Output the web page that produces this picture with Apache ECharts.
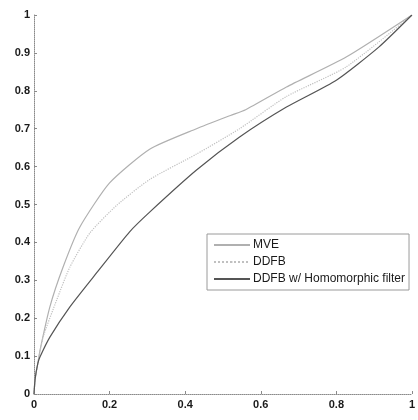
<!DOCTYPE html>
<html>
<head>
<meta charset="utf-8">
<script src="https://cdn.jsdelivr.net/npm/echarts@6/dist/echarts.min.js"></script>
<style>
  html, body { margin: 0; padding: 0; background: #fff; }
  #chart { width: 418px; height: 420px; }
</style>
</head>
<body>
<div id="chart"></div>
<script>
// Series names as shown in the legend
const seriesNames = ['MVE', 'DDFB', 'DDFB w/ Homomorphic filter'];

// Curve samples: x positions and y values for each series
const mveX  = [0, 0.003, 0.01, 0.016, 0.042, 0.077, 0.121, 0.2, 0.306, 0.43, 0.52, 0.56, 0.668, 0.826, 1];
const mveY  = [0, 0.04, 0.08, 0.116, 0.23, 0.335, 0.44, 0.557, 0.646, 0.7, 0.735, 0.75, 0.81, 0.889, 1];

const ddfbX = [0, 0.003, 0.01, 0.024, 0.06, 0.095, 0.148, 0.219, 0.306, 0.43, 0.544, 0.668, 0.826, 1];
const ddfbY = [0, 0.04, 0.08, 0.15, 0.248, 0.335, 0.425, 0.498, 0.566, 0.633, 0.7, 0.785, 0.863, 1];

const homoX = [0, 0.003, 0.01, 0.016, 0.042, 0.095, 0.166, 0.253, 0.306, 0.43, 0.544, 0.668, 0.8, 0.913, 1];
const homoY = [0, 0.04, 0.08, 0.098, 0.15, 0.23, 0.32, 0.428, 0.48, 0.591, 0.678, 0.757, 0.828, 0.916, 1];

// Axis tick positions
const xTicks = [0, 0.2, 0.4, 0.6, 0.8, 1];
const yTicks = [0, 0.1, 0.2, 0.3, 0.4, 0.5, 0.6, 0.7, 0.8, 0.9, 1];

const pairs = (xs, ys) => xs.map((x, i) => [x, ys[i]]);

const lineColors = ['#b0b0b0', '#c0c0c0', '#555555'];
const lineTypes = ['solid', 'dotted', 'solid'];

const chart = echarts.init(document.getElementById('chart'), null, { renderer: 'canvas' });

const axisLabelStyle = {
  color: '#1a1a1a',
  fontFamily: 'Liberation Sans, Arial, sans-serif',
  fontSize: 11,
  fontWeight: 'bold'
};

chart.setOption({
  animation: false,
  backgroundColor: '#ffffff',
  grid: { left: 34, right: 4, top: 15, bottom: 26 },
  xAxis: {
    type: 'value',
    min: 0, max: 1, interval: 0.2,
    axisLine: { lineStyle: { color: '#8a8a8a', width: 1, type: 'dotted' } },
    axisTick: { inside: true, length: 3, lineStyle: { color: '#8a8a8a' } },
    axisLabel: Object.assign({ margin: 5, formatter: v => xTicks.includes(+v.toFixed(1)) ? String(+v.toFixed(1)) : '' }, axisLabelStyle),
    splitLine: { show: false }
  },
  yAxis: {
    type: 'value',
    min: 0, max: 1, interval: 0.1,
    axisLine: { show: true, lineStyle: { color: '#8a8a8a', width: 1, type: 'dotted' } },
    axisTick: { show: true, inside: true, length: 3, lineStyle: { color: '#8a8a8a' } },
    axisLabel: Object.assign({ margin: 4, formatter: v => yTicks.includes(+v.toFixed(1)) ? String(+v.toFixed(1)) : '' }, axisLabelStyle),
    splitLine: { show: false }
  },
  legend: {
    orient: 'vertical',
    left: 207,
    top: 234,
    itemWidth: 36,
    itemHeight: 2,
    itemGap: 5,
    padding: [5, 4, 5, 6],
    borderColor: '#9a9a9a',
    borderWidth: 1,
    backgroundColor: '#ffffff',
    textStyle: {
      color: '#1a1a1a',
      fontFamily: 'Liberation Sans, Arial, sans-serif',
      fontSize: 12,
      padding: [0, 0, 0, -2]
    },
    data: seriesNames
  },
  series: [
    { x: mveX, y: mveY }, { x: ddfbX, y: ddfbY }, { x: homoX, y: homoY }
  ].map((s, i) => ({
    name: seriesNames[i],
    type: 'line',
    data: pairs(s.x, s.y),
    symbol: 'none',
    smooth: 0.2,
    lineStyle: { color: lineColors[i], width: 1.2, type: lineTypes[i] },
    itemStyle: { color: lineColors[i] }
  }))
});
</script>
</body>
</html>
